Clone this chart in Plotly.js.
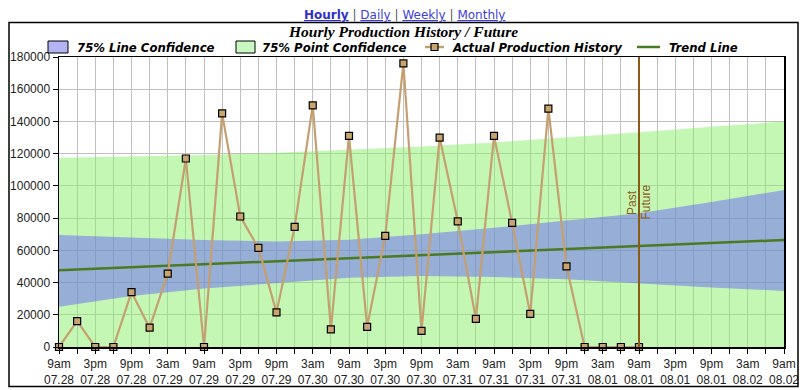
<!DOCTYPE html>
<html>
<head>
<meta charset="utf-8">
<script src="https://cdn.plot.ly/plotly-3.0.1.min.js"></script>
<style>html,body{margin:0;padding:0;background:#fff;}#chart{width:806px;height:390px;}</style>
</head>
<body>
<div id="chart"></div>
<script>
// ---- data ----
const historyHours = [0,3,6,9,12,15,18,21,24,27,30,33,36,39,42,45,48,51,54,57,60,63,66,69,72,75,78,81,84,87,90,93,96];
const production = [0,16000,0,0,34000,12000,45500,117000,0,145000,81000,61500,21500,74500,150000,11000,131000,12500,69000,176000,10000,130000,78000,17500,131000,77000,20500,148000,50000,0,0,0,0];

const bandHours = [0,12,24,36,48,60,72,84,96,108,120];
const lineConfUpper = [69500,67800,66400,65500,66500,70000,74000,78500,83000,90000,97400];
const lineConfLower = [25000,31700,36300,39500,43000,44000,43500,42000,39400,37000,34800];
const pointConfUpper = [117500,118300,119200,120500,122300,124500,127000,130000,133300,136700,140000];

const trendHours = [0,120];
const trendValues = [47600,66400];

const tickHours = [0,3,6,9,12,15,18,21,24,27,30,33,36,39,42,45,48,51,54,57,60,63,66,69,72,75,78,81,84,87,90,93,96,99,102,105,108,111,114,117,120];
const tickLabels = ['9am<br>07.28','3pm<br>07.28','9pm<br>07.28','3am<br>07.29','9am<br>07.29','3pm<br>07.29','9pm<br>07.29','3am<br>07.30','9am<br>07.30','3pm<br>07.30','9pm<br>07.30','3am<br>07.31','9am<br>07.31','3pm<br>07.31','9pm<br>07.31','3am<br>08.01','9am<br>08.01','3pm<br>08.01','9pm<br>08.01','3am<br>08.02','9am<br>08.02'];
const pastFutureHour = 96;

const legendNames = ['75% Line Confidence','75% Point Confidence','Actual Production History','Trend Line'];
const chartTitle = 'Hourly Production History / Future';
const navLinks = ['Hourly','Daily','Weekly','Monthly'];

// ---- styles ----
const C_LINEBAND = 'rgba(100,95,250,0.48)';
const C_POINTBAND = 'rgba(140,240,105,0.5)';
const C_ACTUAL = '#c4a070';
const C_MARKER = '#c8a46e';
const C_TREND = '#4a7a22';
const C_PF = '#8b5a14';
const legendFont = {family:'DejaVu Sans Condensed, Liberation Sans Narrow, Arial Narrow, sans-serif', size:13, color:'#000', weight:'bold', style:'italic'};
const tickText = tickHours.map((h,i)=> i%2===0 ? tickLabels[i/2] : '');

const traces = [
  {x:bandHours, y:pointConfUpper, type:'scatter', mode:'lines', fill:'tozeroy',
   fillcolor:C_POINTBAND, line:{width:0}, showlegend:false, hoverinfo:'skip', name:legendNames[1]},
  {x:bandHours, y:lineConfLower, type:'scatter', mode:'lines', line:{width:0}, showlegend:false, hoverinfo:'skip'},
  {x:bandHours, y:lineConfUpper, type:'scatter', mode:'lines', fill:'tonexty',
   fillcolor:C_LINEBAND, line:{width:0}, showlegend:false, hoverinfo:'skip', name:legendNames[0]},
  {x:trendHours, y:trendValues, type:'scatter', mode:'lines', line:{color:C_TREND, width:2.5}, showlegend:false, name:legendNames[3]},
  {x:historyHours, y:production, type:'scatter', mode:'lines+markers', cliponaxis:false,
   line:{color:C_ACTUAL, width:2.2}, name:legendNames[2],
   marker:{symbol:'square', size:7, color:C_MARKER, line:{color:'#000', width:1.2}}, showlegend:false}
];

// legend drawn as paper-anchored swatches + texts
const P = px => (px-59)/725;          // pixel x -> paper x
const PY = py => (347-py)/290;        // pixel y -> paper y
const legendShapes = [
  {type:'rect', xref:'paper', yref:'paper', x0:P(48), x1:P(68), y0:PY(53), y1:PY(41), fillcolor:'#b4b4f4', line:{color:'#000', width:1}},
  {type:'rect', xref:'paper', yref:'paper', x0:P(236), x1:P(255), y0:PY(53), y1:PY(41), fillcolor:'#c8f8c0', line:{color:'#000', width:1}},
  {type:'line', xref:'paper', yref:'paper', x0:P(425), x1:P(444), y0:PY(47), y1:PY(47), line:{color:C_ACTUAL, width:2.5}},
  {type:'rect', xref:'paper', yref:'paper', x0:P(431), x1:P(438), y0:PY(50.5), y1:PY(43.5), fillcolor:C_MARKER, line:{color:'#000', width:1.2}},
  {type:'line', xref:'paper', yref:'paper', x0:P(637), x1:P(660), y0:PY(47), y1:PY(47), line:{color:C_TREND, width:2.5}}
];
const legendTextX = [75, 260, 450, 667];
const legendAnns = legendNames.map((n,i)=>({xref:'paper', yref:'paper', x:P(legendTextX[i]), y:PY(47.5),
  xanchor:'left', yanchor:'middle', showarrow:false, text:n, font:legendFont}));

const linkStyle = 'text-decoration:underline';
const navText = navLinks.map((t,i)=> i===0
  ? '<span style="'+linkStyle+';color:#3030c8"><b>'+t+'</b></span>'
  : '<span style="'+linkStyle+'">'+t+'</span>').join('<span style="color:#555"> | </span>');

const layout = {
  width:806, height:390,
  margin:{l:59, r:22, t:57, b:43, pad:0},
  paper_bgcolor:'#fff', plot_bgcolor:'#fff',
  font:{family:'Liberation Sans, Arial, sans-serif', size:12, color:'#222'},
  showlegend:false,
  xaxis:{range:[0,120], tickmode:'array', tickvals:tickHours, ticktext:tickText,
         ticks:'outside', ticklen:5, tickcolor:'#000', showgrid:true, gridcolor:'#c0c0c0', gridwidth:1,
         showline:true, linecolor:'#000', linewidth:1.5, mirror:true, zeroline:false,
         tickfont:{family:'Liberation Sans, Arial, sans-serif', size:12, color:'#222'}, fixedrange:true},
  yaxis:{range:[0,180000], dtick:20000, tickformat:'d', ticks:'outside', ticklen:5, tickcolor:'#000',
         showgrid:true, gridcolor:'#c0c0c0', gridwidth:1,
         showline:true, linecolor:'#000', linewidth:1.5, mirror:true, zeroline:false,
         tickfont:{family:'Liberation Sans, Arial, sans-serif', size:12, color:'#222'}, fixedrange:true},
  shapes:[
    {type:'line', xref:'x', yref:'paper', x0:pastFutureHour, x1:pastFutureHour, y0:0, y1:1,
     line:{color:C_PF, width:2}},
    {type:'rect', xref:'paper', yref:'paper', x0:P(9), x1:P(798), y0:PY(386.5), y1:PY(22.5),
     line:{color:'#000', width:1.5}, layer:'above'}
  ].concat(legendShapes),
  annotations:[
    {xref:'paper', yref:'paper', x:P(403), y:PY(31), xanchor:'center', yanchor:'middle', showarrow:false,
     text:'<i><b>'+chartTitle+'</b></i>',
     font:{family:'Liberation Serif, Times New Roman, serif', size:15.5, color:'#000'}},
    {xref:'paper', yref:'paper', x:P(404), y:PY(15), xanchor:'center', yanchor:'middle', showarrow:false,
     text:navText,
     font:{family:'DejaVu Sans, Verdana, sans-serif', size:12, color:'#4040d8'}},
    {xref:'x', yref:'y', x:pastFutureHour, y:89400, xshift:-7, textangle:-90, showarrow:false,
     text:'Past', font:{family:'Liberation Sans, Arial, sans-serif', size:12, color:C_PF}},
    {xref:'x', yref:'y', x:pastFutureHour, y:89700, xshift:7, textangle:-90, showarrow:false,
     text:'Future', font:{family:'Liberation Sans, Arial, sans-serif', size:12, color:C_PF}}
  ].concat(legendAnns)
};

Plotly.newPlot('chart', traces, layout, {displayModeBar:false, staticPlot:true});
</script>
</body>
</html>
